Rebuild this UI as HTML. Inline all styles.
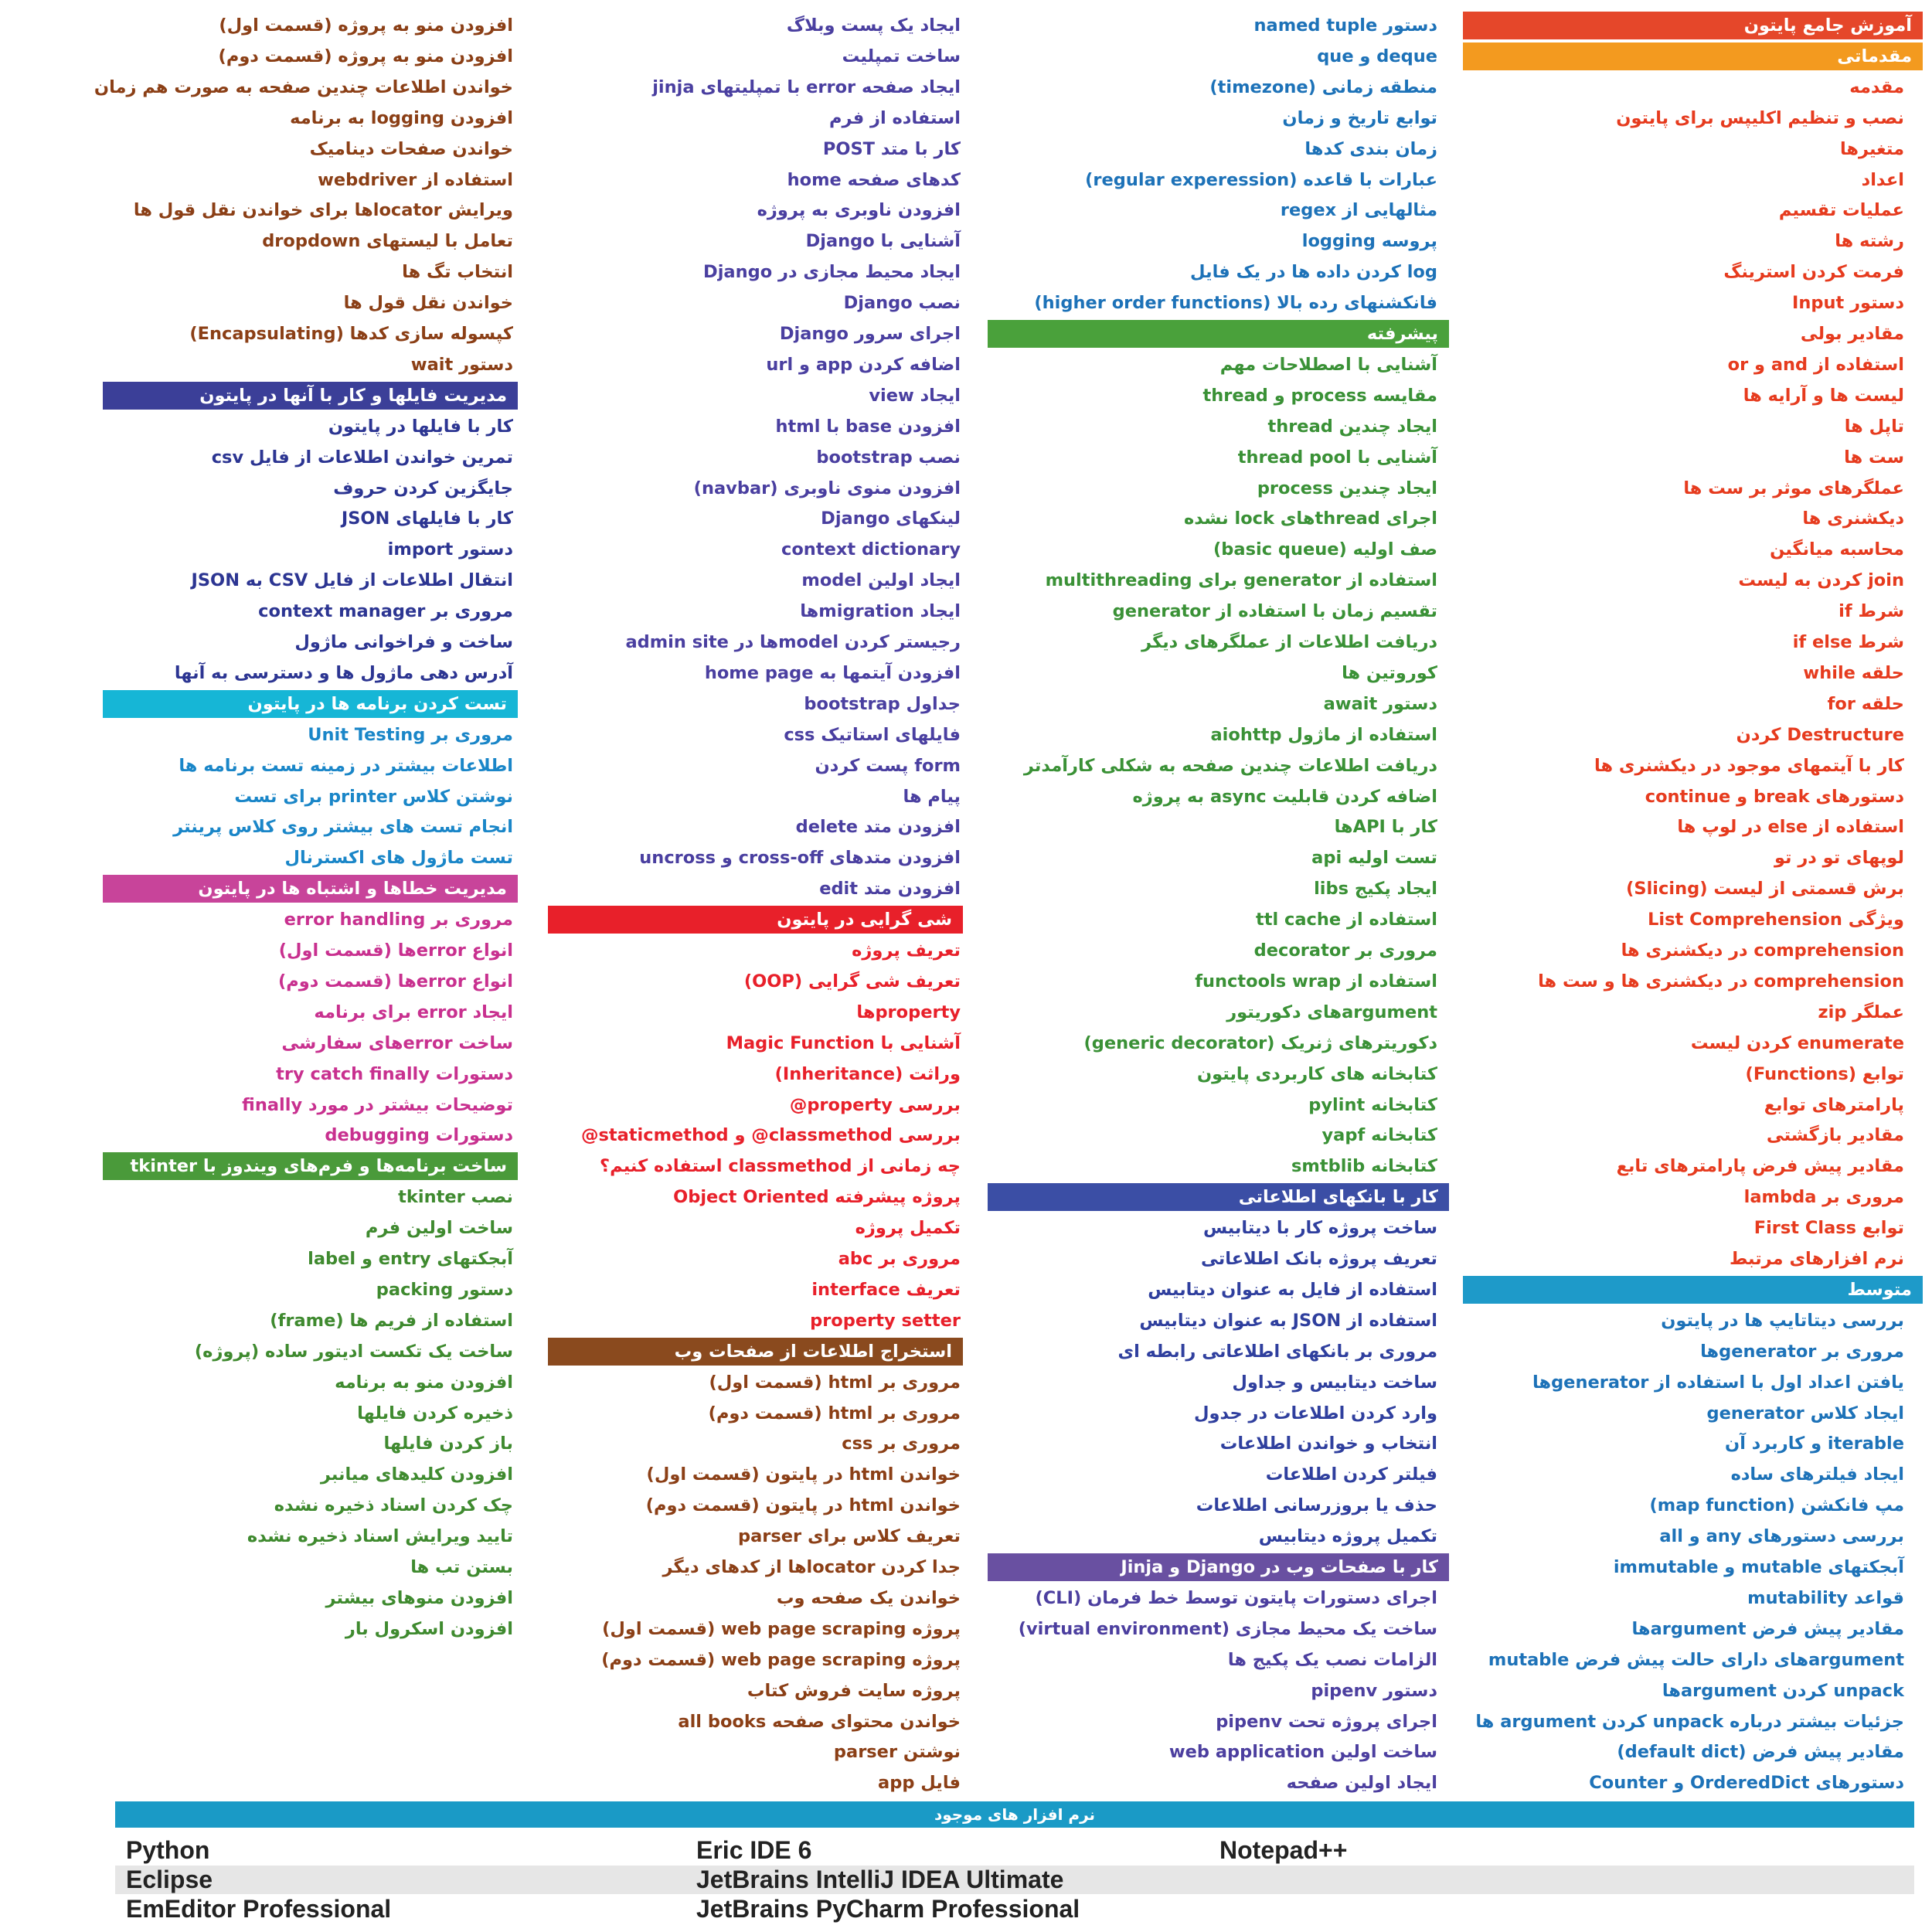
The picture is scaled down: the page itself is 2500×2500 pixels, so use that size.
<!DOCTYPE html>
<html><head><meta charset="utf-8">
<style>
html,body{margin:0;padding:0;background:#fff;}
body{width:2500px;height:2500px;position:relative;overflow:hidden;font-family:"DejaVu Sans","Liberation Sans",sans-serif;}
.row{position:absolute;height:40px;line-height:40px;direction:rtl;text-align:right;white-space:nowrap;font-weight:bold;font-size:22.5px;}
.hdr{color:#fff;height:36px;line-height:36px;padding-right:14px;box-sizing:border-box;}
.sw{position:absolute;font-family:"Liberation Sans",sans-serif;font-weight:bold;font-size:32px;color:#222;line-height:37px;}
</style></head>
<body>
<div id="root"></div>
<div style="position:absolute;left:149px;top:2331px;width:2328px;height:34px;background:#1a9ac6;color:#fff;text-align:center;font-size:20px;line-height:34px;font-weight:bold;direction:rtl;">نرم افزار های موجود</div>
<div style="position:absolute;left:149px;top:2414px;width:2328px;height:37px;background:#e6e6e6;"></div>
<div class="sw" style="left:163px;top:2376px">Python</div>
<div class="sw" style="left:901px;top:2376px">Eric IDE 6</div>
<div class="sw" style="left:1578px;top:2376px">Notepad++</div>
<div class="sw" style="left:163px;top:2414px">Eclipse</div>
<div class="sw" style="left:901px;top:2414px">JetBrains IntelliJ IDEA Ultimate</div>
<div class="sw" style="left:163px;top:2452px">EmEditor Professional</div>
<div class="sw" style="left:901px;top:2452px">JetBrains PyCharm Professional</div>
<script>
const cols=[
 {right:2464,hl:1893,hr:2488,secs:[
  {h:"آموزش جامع پایتون",bg:"#e5472a",c:"#e63b1e",items:[]},
  {h:"مقدماتی",bg:"#f39a1f",c:"#e63b1e",items:["مقدمه","نصب و تنظیم اکلیپس برای پایتون","متغیرها","اعداد","عملیات تقسیم","رشته ها","فرمت کردن استرینگ","دستور Input","مقادیر بولی","استفاده از and و or","لیست ها و آرایه ها","تاپل ها","ست ها","عملگرهای موثر بر ست ها","دیکشنری ها","محاسبه میانگین","join کردن به لیست","شرط if","شرط if else","حلقه while","حلقه for","Destructure کردن","کار با آیتمهای موجود در دیکشنری ها","دستورهای break و continue","استفاده از else در لوپ ها","لوپهای تو در تو","برش قسمتی از لیست (Slicing)","ویژگی List Comprehension","comprehension در دیکشنری ها","comprehension در دیکشنری ها و ست ها","عملگر zip","enumerate کردن لیست","توابع (Functions)","پارامترهای توابع","مقادیر بازگشتی","مقادیر پیش فرض پارامترهای تابع","مروری بر lambda","توابع First Class","نرم افزارهای مرتبط"]},
  {h:"متوسط",bg:"#1e9ac9",c:"#1d72b8",items:["بررسی دیتاتایپ ها در پایتون","مروری بر generatorها","یافتن اعداد اول با استفاده از generatorها","ایجاد کلاس generator","iterable و کاربرد آن","ایجاد فیلترهای ساده","مپ فانکشن (map function)","بررسی دستورهای any و all","آبجکتهای mutable و immutable","قواعد mutability","مقادیر پیش فرض argumentها","argumentهای دارای حالت پیش فرض mutable","unpack کردن argumentها","جزئیات بیشتر درباره unpack کردن argument ها","مقادیر پیش فرض (default dict)","دستورهای OrderedDict و Counter"]}]},
 {right:1860,hl:1278,hr:1875,secs:[
  {h:null,c:"#1d72b8",items:["دستور named tuple","deque و que","منطقه زمانی (timezone)","توابع تاریخ و زمان","زمان بندی کدها","عبارات با قاعده (regular experession)","مثالهایی از regex","پروسه logging","log کردن داده ها در یک فایل","فانکشنهای رده بالا (higher order functions)"]},
  {h:"پیشرفته",bg:"#4aa13b",c:"#3a9136",items:["آشنایی با اصطلاحات مهم","مقایسه process و thread","ایجاد چندین thread","آشنایی با thread pool","ایجاد چندین process","اجرای threadهای lock نشده","صف اولیه (basic queue)","استفاده از generator برای multithreading","تقسیم زمان با استفاده از generator","دریافت اطلاعات از عملگرهای دیگر","کوروتین ها","دستور await","استفاده از ماژول aiohttp","دریافت اطلاعات چندین صفحه به شکلی کارآمدتر","اضافه کردن قابلیت async به پروژه","کار با APIها","تست اولیه api","ایجاد پکیج libs","استفاده از ttl cache","مروری بر decorator","استفاده از functools wrap","argumentهای دکوریتور","دکوریترهای ژنریک (generic decorator)","کتابخانه های کاربردی پایتون","کتابخانه pylint","کتابخانه yapf","کتابخانه smtblib"]},
  {h:"کار با بانکهای اطلاعاتی",bg:"#3b4ea5",c:"#2f3f9e",items:["ساخت پروژه کار با دیتابیس","تعریف پروژه بانک اطلاعاتی","استفاده از فایل به عنوان دیتابیس","استفاده از JSON به عنوان دیتابیس","مروری بر بانکهای اطلاعاتی رابطه ای","ساخت دیتابیس و جداول","وارد کردن اطلاعات در جدول","انتخاب و خواندن اطلاعات","فیلتر کردن اطلاعات","حذف یا بروزرسانی اطلاعات","تکمیل پروژه دیتابیس"]},
  {h:"کار با صفحات وب در Django و Jinja",bg:"#6950a1",c:"#4c3f9f",items:["اجرای دستورات پایتون توسط خط فرمان (CLI)","ساخت یک محیط مجازی (virtual environment)","الزامات نصب یک پکیج ها","دستور pipenv","اجرای پروژه تحت pipenv","ساخت اولین web application","ایجاد اولین صفحه"]}]},
 {right:1243,hl:709,hr:1246,secs:[
  {h:null,c:"#4a3fa0",items:["ایجاد یک پست وبلاگ","ساخت تمپلیت","ایجاد صفحه error با تمپلیتهای jinja","استفاده از فرم","کار با متد POST","کدهای صفحه home","افزودن ناوبری به پروژه","آشنایی با Django","ایجاد محیط مجازی در Django","نصب Django","اجرای سرور Django","اضافه کردن app و url","ایجاد view","افزودن base با html","نصب bootstrap","افزودن منوی ناوبری (navbar)","لینکهای Django","context dictionary","ایجاد اولین model","ایجاد migrationها","رجیستر کردن modelها در admin site","افزودن آیتمها به home page","جداول bootstrap","فایلهای استاتیک css","form پست کردن","پیام ها","افزودن متد delete","افزودن متدهای cross-off و uncross","افزودن متد edit"]},
  {h:"شی گرایی در پایتون",bg:"#e8202a",c:"#e8202a",items:["تعریف پروژه","تعریف شی گرایی (OOP)","propertyها","آشنایی با Magic Function","وراثت (Inheritance)","بررسی property@","بررسی classmethod@ و staticmethod@","چه زمانی از classmethod استفاده کنیم؟","پروژه پیشرفته Object Oriented","تکمیل پروژه","مروری بر abc","تعریف interface","property setter"]},
  {h:"استخراج اطلاعات از صفحات وب",bg:"#8a4a1e",c:"#8b3f16",items:["مروری بر html (قسمت اول)","مروری بر html (قسمت دوم)","مروری بر css","خواندن html در پایتون (قسمت اول)","خواندن html در پایتون (قسمت دوم)","تعریف کلاس برای parser","جدا کردن locatorها از کدهای دیگر","خواندن یک صفحه وب","پروژه web page scraping (قسمت اول)","پروژه web page scraping (قسمت دوم)","پروژه سایت فروش کتاب","خواندن محتوای صفحه all books","نوشتن parser","فایل app"]}]},
 {right:664,hl:133,hr:670,secs:[
  {h:null,c:"#8b3f16",items:["افزودن منو به پروژه (قسمت اول)","افزودن منو به پروژه (قسمت دوم)","خواندن اطلاعات چندین صفحه به صورت هم زمان","افزودن logging به برنامه","خواندن صفحات دینامیک","استفاده از webdriver","ویرایش locatorها برای خواندن نقل قول ها","تعامل با لیستهای dropdown","انتخاب تگ ها","خواندن نقل قول ها","کپسوله سازی کدها (Encapsulating)","دستور wait"]},
  {h:"مدیریت فایلها و کار با آنها در پایتون",bg:"#3b3f98",c:"#2c3592",items:["کار با فایلها در پایتون","تمرین خواندن اطلاعات از فایل csv","جایگزین کردن حروف","کار با فایلهای JSON","دستور import","انتقال اطلاعات از فایل CSV به JSON","مروری بر context manager","ساخت و فراخوانی ماژول","آدرس دهی ماژول ها و دسترسی به آنها"]},
  {h:"تست کردن برنامه ها در پایتون",bg:"#16b6d6",c:"#1a86c8",items:["مروری بر Unit Testing","اطلاعات بیشتر در زمینه تست برنامه ها","نوشتن کلاس printer برای تست","انجام تست های بیشتر روی کلاس پرینتر","تست ماژول های اکسترنال"]},
  {h:"مدیریت خطاها و اشتباه ها در پایتون",bg:"#c8449a",c:"#c8308f",items:["مروری بر error handling","انواع errorها (قسمت اول)","انواع errorها (قسمت دوم)","ایجاد error برای برنامه","ساخت errorهای سفارشی","دستورات try catch finally","توضیحات بیشتر در مورد finally","دستورات debugging"]},
  {h:"ساخت برنامه‌ها و فرم‌های ویندوز با tkinter",bg:"#4a9a3a",c:"#3f8a2f",items:["نصب tkinter","ساخت اولین فرم","آبجکتهای entry و label","دستور packing","استفاده از فریم ها (frame)","ساخت یک تکست ادیتور ساده (پروژه)","افزودن منو به برنامه","ذخیره کردن فایلها","باز کردن فایلها","افزودن کلیدهای میانبر","چک کردن اسناد ذخیره نشده","تایید ویرایش اسناد ذخیره نشده","بستن تب ها","افزودن منوهای بیشتر","افزودن اسکرول بار"]}]}
];
const root=document.getElementById('root');
const STEP=39.9;
cols.forEach((col,ci)=>{
  let r=0;
  col.secs.forEach((s,si)=>{
    if(s.h){
      const d=document.createElement('div');
      d.className='row hdr';
      d.style.left=col.hl+'px';d.style.width=(col.hr-col.hl)+'px';
      d.style.top=(15+STEP*r)+'px';d.style.background=s.bg;
      d.textContent=s.h;
      
      
      root.appendChild(d);r++;
    }
    s.items.forEach(t=>{
      const d=document.createElement('div');
      d.className='row';
      d.style.left=(col.right-620)+'px';d.style.width='620px';
      d.style.top=(13+STEP*r)+'px';d.style.color=s.c;
      d.textContent=t;
      
      
      root.appendChild(d);r++;
    });
  });
});
</script>
</body></html>
